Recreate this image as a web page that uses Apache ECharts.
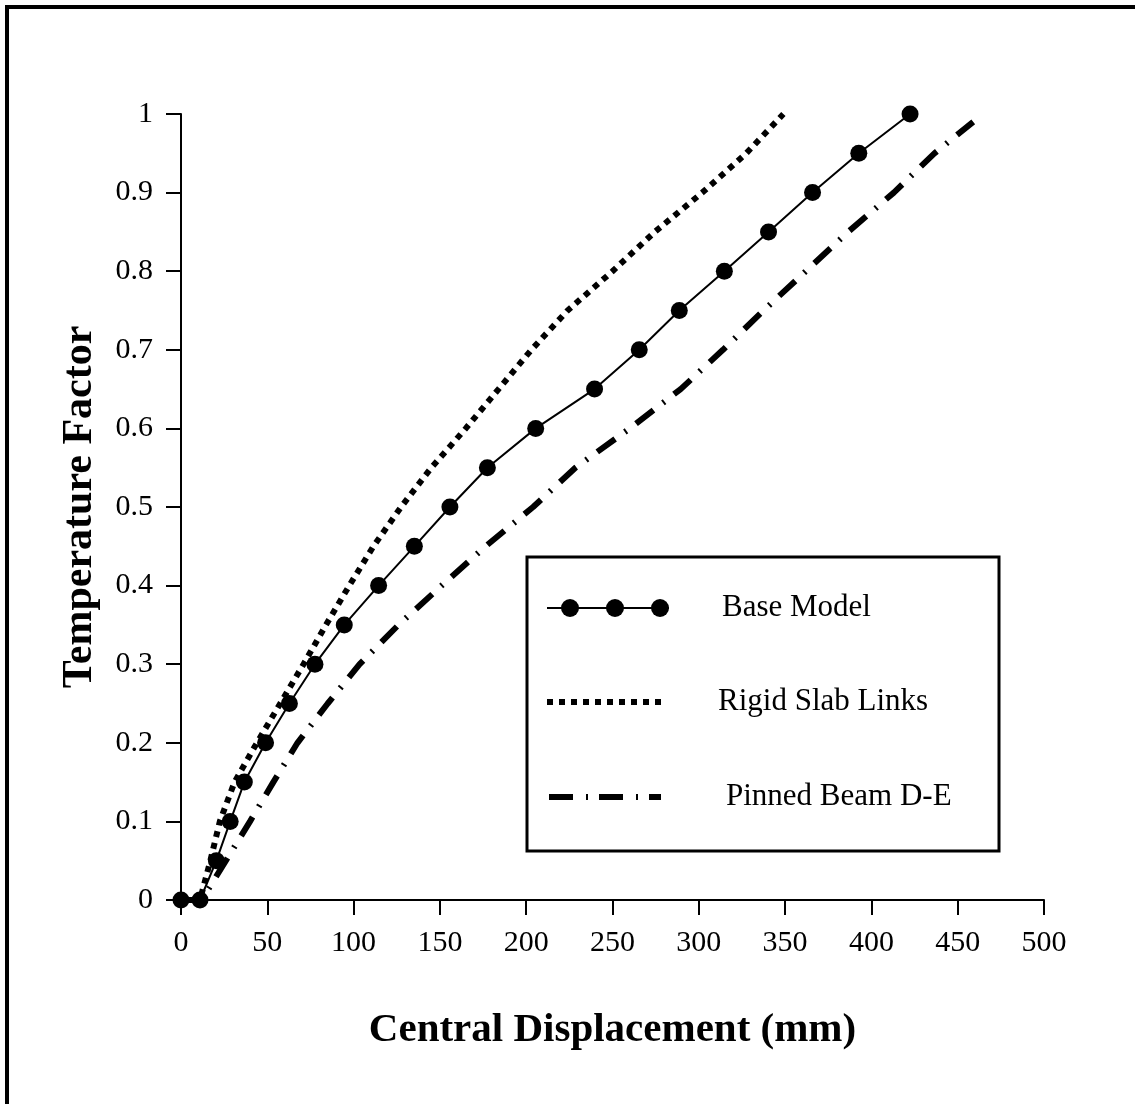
<!DOCTYPE html>
<html>
<head>
<meta charset="utf-8">
<script src="https://cdn.jsdelivr.net/npm/echarts@6/dist/echarts.min.js"></script>
<style>
html,body{margin:0;padding:0;background:#fff;}
#chart{width:1135px;height:1104px;}
</style>
</head>
<body>
<div id="chart"></div>
<script>
// ---- data ----
const seriesNames = ['Base Model', 'Rigid Slab Links', 'Pinned Beam D-E'];
const xTickLabels = ['0','50','100','150','200','250','300','350','400','450','500'];
const yTickLabels = ['0','0.1','0.2','0.3','0.4','0.5','0.6','0.7','0.8','0.9','1'];

const baseTemp = [0,0,0.05,0.1,0.15,0.2,0.25,0.3,0.35,0.4,0.45,0.5,0.55,0.6,0.65,0.7,0.75,0.8,0.85,0.9,0.95,1.0];
const baseDisp = [0,11,20.5,28.5,36.7,49,62.8,77.6,94.6,114.5,135.2,155.8,177.5,205.5,239.6,265.5,288.7,314.8,340.4,365.9,392.7,422.4];

const rigidTemp = [0,0,0.05,0.1,0.15,0.2,0.25,0.3,0.35,0.4,0.45,0.5,0.55,0.6,0.65,0.7,0.75,0.8,0.85,0.9,0.95,1.0];
const rigidDisp = [0,11,17,22.5,31,44,57.5,71,84,97.5,111.5,127.5,145,165,184,203,224,250,274.5,302,327.5,349];

const pinnedTemp = [0,0,0.05,0.1,0.15,0.2,0.25,0.3,0.35,0.4,0.45,0.5,0.55,0.6,0.65,0.7,0.75,0.8,0.85,0.9,0.95,0.99];
const pinnedDisp = [0,12,26,40,53.5,67.5,85,103.5,126,151,176.5,204,228.5,260,289.5,314,337.5,362,386.5,413,436.5,459];

function pairs(xs, ys){ return xs.map((x,i)=>[x, ys[i]]); }

const FONT = "'Liberation Serif','Times New Roman',serif";
const chart = echarts.init(document.getElementById('chart'), null, {renderer:'canvas'});

const option = {
  animation: false,
  backgroundColor: '#fff',
  grid: {left:181, top:114, width:863, height:786, containLabel:false},
  xAxis: {
    type:'value', min:0, max:500, interval:50,
    name:'Central Displacement (mm)', nameLocation:'middle', nameGap:110,
    nameTextStyle:{fontFamily:FONT, fontSize:41, fontWeight:'bold', color:'#000'},
    axisLine:{show:true, onZero:false, lineStyle:{color:'#000', width:2}},
    axisTick:{show:true, inside:false, length:15, lineStyle:{color:'#000', width:2}},
    axisLabel:{margin:28, fontFamily:FONT, fontSize:30, color:'#000',
      formatter:(v)=>xTickLabels[Math.round(v/50)]},
    splitLine:{show:false}
  },
  yAxis: {
    type:'value', min:0, max:1, interval:0.1,
    name:'Temperature Factor', nameLocation:'middle', nameGap:80, nameRotate:90,
    nameTextStyle:{fontFamily:FONT, fontSize:42, fontWeight:'bold', color:'#000'},
    axisLine:{show:true, onZero:false, lineStyle:{color:'#000', width:2}},
    axisTick:{show:true, inside:false, length:15, lineStyle:{color:'#000', width:2}},
    axisLabel:{margin:28, fontFamily:FONT, fontSize:30, color:'#000',
      formatter:(v)=>yTickLabels[Math.round(v*10)]},
    splitLine:{show:false}
  },
  series: [
    {
      name: seriesNames[2], type:'line', data: pairs(pinnedDisp, pinnedTemp),
      symbol:'none', smooth:false, z:2,
      lineStyle:{color:'#000', width:6, type:[22,12,2,12], cap:'butt'}
    },
    {
      name: seriesNames[1], type:'line', data: pairs(rigidDisp, rigidTemp),
      symbol:'none', smooth:false, z:3,
      lineStyle:{color:'#000', width:6, type:[6,6], cap:'butt'}
    },
    {
      name: seriesNames[0], type:'line', data: pairs(baseDisp, baseTemp),
      symbol:'circle', symbolSize:17, showAllSymbol:true, smooth:false, z:4,
      itemStyle:{color:'#000'},
      lineStyle:{color:'#000', width:2}
    }
  ],
  graphic: [
    // outer frame (cut off at right and bottom edges)
    {type:'rect', z:100, silent:true, shape:{x:7, y:7, width:1140, height:1110},
     style:{fill:'none', stroke:'#000', lineWidth:4}},
    // legend box
    {type:'group', z:50, children:[
      {type:'rect', shape:{x:527, y:557, width:472, height:294},
       style:{fill:'#fff', stroke:'#000', lineWidth:3}},
      {type:'line', shape:{x1:547, y1:608, x2:669, y2:608}, style:{stroke:'#000', lineWidth:2}},
      {type:'circle', shape:{cx:570, cy:608, r:9}, style:{fill:'#000'}},
      {type:'circle', shape:{cx:615, cy:608, r:9}, style:{fill:'#000'}},
      {type:'circle', shape:{cx:660, cy:608, r:9}, style:{fill:'#000'}},
      {type:'text', style:{x:722, y:608, text:seriesNames[0], fontFamily:FONT, fontSize:31, fill:'#000', verticalAlign:'middle', align:'left'}},
      {type:'line', shape:{x1:547, y1:702, x2:661, y2:702}, style:{stroke:'#000', lineWidth:6, lineDash:[6,6]}},
      {type:'text', style:{x:718, y:702, text:seriesNames[1], fontFamily:FONT, fontSize:31, fill:'#000', verticalAlign:'middle', align:'left'}},
      {type:'line', shape:{x1:549, y1:797, x2:661, y2:797}, style:{stroke:'#000', lineWidth:6, lineDash:[24,13,2,11]}},
      {type:'text', style:{x:726, y:797, text:seriesNames[2], fontFamily:FONT, fontSize:31, fill:'#000', verticalAlign:'middle', align:'left'}}
    ]}
  ]
};
chart.setOption(option);
</script>
</body>
</html>
